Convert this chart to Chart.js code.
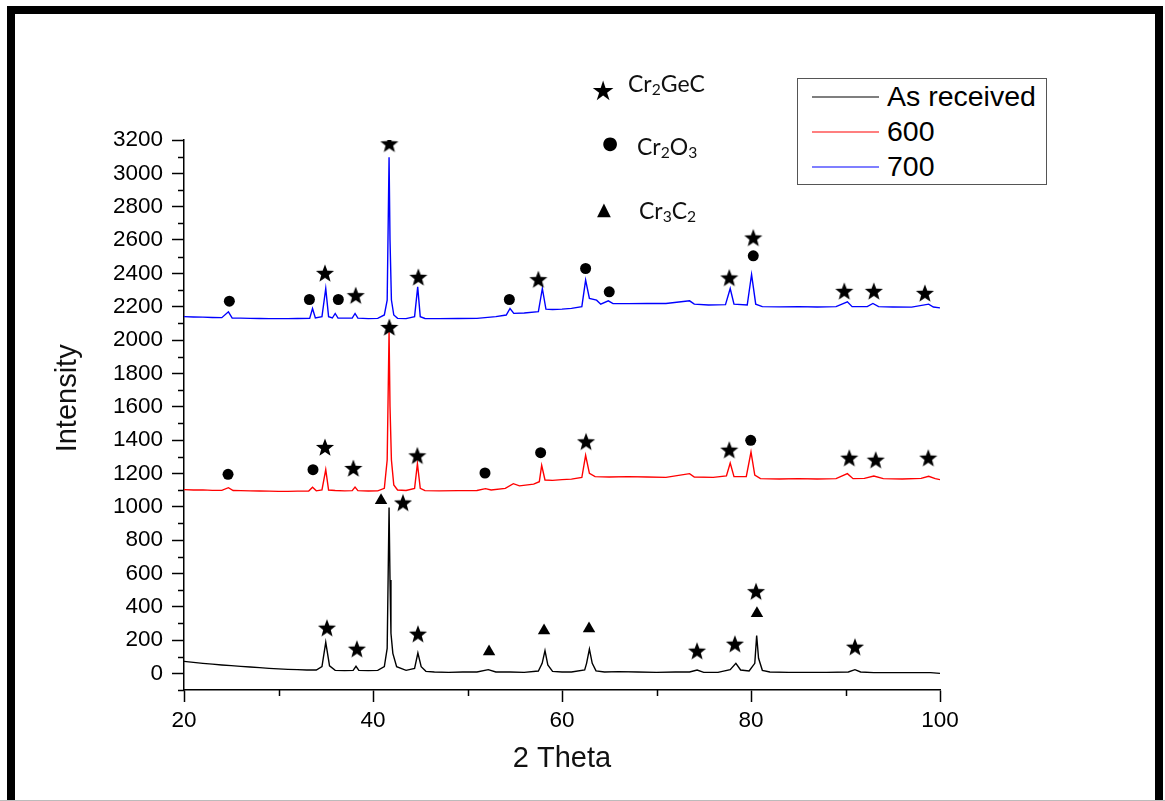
<!DOCTYPE html>
<html>
<head>
<meta charset="utf-8">
<title>XRD patterns</title>
<script src="https://cdn.jsdelivr.net/npm/chart.js@4.4.1/dist/chart.umd.min.js"></script>
<style>
    body { margin: 0; background: #fff; width: 1165px; height: 801px; overflow: hidden; position: relative; font-family: "Liberation Sans", Arial, sans-serif; }
    #frame { position: absolute; left: 7px; top: 6px; width: 1156px; height: 820px; border: 8px solid #000; border-bottom: none; box-sizing: border-box; }
    #bottomLine { position: absolute; left: 0; top: 800px; width: 1165px; height: 1px; background: #bbb; }
    #xrd { position: absolute; left: 0; top: 0; }
    #legend { position: absolute; left: 797px; top: 78px; width: 250px; height: 107px; border: 1.5px solid #555; box-sizing: border-box; background: #fff; }
    #legend .row { position: relative; height: 35px; }
    #legend .swatch { position: absolute; left: 14px; top: 17px; width: 67px; height: 2px; opacity: 0.5; }
    #legend .txt { position: absolute; left: 89px; top: 0; line-height: 35px; font-size: 28.5px; color: #000; }
    .sym { position: absolute; transform: translate(-50%, -50%); color: #000; font-family: "DejaVu Sans", sans-serif; line-height: 1; }
    .phase { position: absolute; transform: translateY(-50%); font-family: Lato, "Open Sans", sans-serif; font-size: 23px; color: #111; line-height: 1; }
    .phase sub { font-size: 0.68em; vertical-align: -0.2em; }
</style>
</head>
<body>
<div id="frame"></div>
<div id="bottomLine"></div>
<canvas id="xrd" width="1165" height="801"></canvas>
<div id="legend"></div>
<div id="key"></div>

<script>
// series: as received, heat treated at 600 and 700
const seriesLabels = ['As received', '600', '700'];
const seriesColors = ['#000000', '#ff0000', '#0000ff'];

const asRecX = [20, 21, 22, 23, 24, 25, 26, 27, 28, 29, 30, 31, 32, 33, 34, 34.6, 35.0, 35.4, 36, 37, 37.9, 38.2, 38.5, 39.5, 40.5, 41.2, 41.5, 41.7, 41.8, 41.9, 42.1, 42.5, 43.5, 44.4, 44.75, 45.1, 45.6, 46.5, 48, 49.5, 51, 52.2, 53, 54.5, 56, 57.5, 57.9, 58.2, 58.5, 59, 60, 61, 62.4, 62.6, 62.9, 63.2, 63.6, 64.5, 66, 68, 70, 72, 73.5, 74.3, 75, 76.5, 77.8, 78.4, 78.9, 79.8, 80.4, 80.6, 80.8, 81.2, 82, 84, 86, 88, 90.3, 91.0, 91.6, 93, 95, 97, 99, 100];
const asRecY = [72, 66, 60, 55, 50, 46, 42, 38, 34, 30, 27, 24, 22, 20, 20, 40, 186, 45, 18, 16, 18, 42, 18, 16, 18, 40, 150, 995, 560, 240, 120, 40, 18, 30, 122, 40, 12, 8, 6, 8, 8, 22, 8, 8, 6, 14, 60, 136, 50, 12, 8, 8, 20, 60, 146, 60, 15, 8, 10, 8, 6, 8, 8, 20, 6, 6, 22, 60, 20, 14, 60, 226, 90, 18, 8, 6, 6, 6, 8, 22, 8, 4, 4, 4, 4, 0];

const h600X = [20, 21, 22, 23, 24, 24.7, 25.2, 26, 27, 28, 29, 30, 31, 32, 33.2, 33.6, 34, 34.6, 35.0, 35.3, 36, 37, 37.8, 38.1, 38.4, 39.5, 40.5, 41.2, 41.5, 41.7, 41.8, 41.95, 42.2, 42.6, 43.5, 44.4, 44.7, 45.0, 45.5, 47, 49, 51, 51.9, 52.5, 54, 54.85, 55.5, 57, 57.6, 57.85, 58.2, 59, 60, 61, 62.1, 62.5, 62.9, 63.5, 65, 67, 69, 71, 73.5, 74, 76, 77.4, 77.8, 78.2, 79.5, 80.0, 80.4, 81, 83, 85, 87, 89, 90.2, 90.8, 92, 93.0, 94, 96, 98, 98.8, 99.5, 100];
const h600Y = [1102, 1100, 1101, 1098, 1098, 1114, 1097, 1096, 1095, 1094, 1093, 1092, 1092, 1093, 1094, 1117, 1095, 1100, 1222, 1100, 1097, 1095, 1096, 1117, 1096, 1094, 1095, 1110, 1280, 2050, 1600, 1280, 1130, 1100, 1097, 1110, 1258, 1110, 1096, 1095, 1096, 1097, 1108, 1100, 1110, 1138, 1125, 1135, 1150, 1248, 1160, 1158, 1162, 1165, 1175, 1308, 1200, 1180, 1178, 1180, 1178, 1176, 1198, 1178, 1176, 1185, 1262, 1180, 1180, 1328, 1190, 1168, 1166, 1168, 1166, 1168, 1198, 1168, 1170, 1184, 1168, 1166, 1170, 1182, 1168, 1162];

const h700X = [20, 21, 22, 23, 24, 24.7, 25.1, 26, 27, 28, 29, 30, 31, 32, 33.3, 33.6, 33.9, 34.6, 35.0, 35.3, 35.7, 36.0, 36.3, 37, 37.8, 38.1, 38.4, 39.5, 40.5, 41.2, 41.5, 41.7, 41.8, 41.95, 42.2, 42.6, 43.5, 44.4, 44.73, 45.0, 45.5, 47, 49, 51, 53, 54.1, 54.5, 54.9, 56, 57.5, 57.92, 58.3, 59, 60, 61, 62.1, 62.5, 62.9, 63.66, 64.1, 64.9, 65.4, 67, 69, 71, 73.5, 74, 75.5, 77.3, 77.8, 78.2, 79.6, 80.06, 80.5, 81.2, 83, 85, 87, 89, 90.2, 90.7, 92.3, 92.9, 93.5, 95, 97, 98.8, 99.3, 100];
const h700Y = [2140, 2138, 2137, 2135, 2134, 2169, 2132, 2131, 2130, 2129, 2128, 2128, 2128, 2129, 2130, 2189, 2132, 2140, 2309, 2140, 2132, 2159, 2132, 2131, 2132, 2159, 2131, 2128, 2130, 2150, 2239, 3096, 2600, 2240, 2150, 2130, 2128, 2140, 2319, 2140, 2129, 2128, 2129, 2130, 2140, 2150, 2189, 2160, 2162, 2170, 2309, 2185, 2183, 2185, 2190, 2200, 2359, 2250, 2239, 2215, 2235, 2218, 2218, 2220, 2219, 2235, 2215, 2210, 2212, 2309, 2215, 2210, 2393, 2215, 2200, 2199, 2200, 2198, 2200, 2229, 2200, 2200, 2219, 2200, 2198, 2197, 2215, 2198, 2193];

// phase markers placed over the peaks
const starX = [35.13, 38.3, 43.17, 44.76, 74.29, 78.3, 80.53, 91.0, 34.92, 37.92, 41.73, 44.69, 62.54, 77.7, 90.4, 93.2, 98.76, 34.92, 38.17, 41.73, 44.8, 57.5, 77.7, 80.24, 89.87, 93.0, 98.4];
const starY = [274, 148, 1025, 238, 136, 178, 493, 160, 1358, 1232, 2078, 1308, 1392, 1342, 1294, 1282, 1294, 2403, 2269, 3180, 2379, 2365, 2375, 2615, 2295, 2295, 2283];
const dotX = [24.66, 33.65, 51.85, 57.74, 79.97, 24.8, 33.27, 36.33, 54.43, 62.5, 65.0, 80.24];
const dotY = [1194, 1222, 1202, 1324, 1398, 2233, 2243, 2243, 2243, 2429, 2289, 2505];
const triX = [40.85, 52.28, 58.1, 62.86, 80.63];
const triY = [1037, 130, 256, 268, 360];

const phaseNames = [['Cr', '2', 'GeC', ''], ['Cr', '2', 'O', '3'], ['Cr', '3', 'C', '2']];

const xMajor = [20, 40, 60, 80, 100];
const xMinor = [30, 50, 70, 90];
const yMinor = [-100, 100, 300, 500, 700, 900, 1100, 1300, 1500, 1700, 1900, 2100, 2300, 2500, 2700, 2900, 3100];
const yTitle = 'Intensity';
const yTitleAt = 1650;  // value the y title is centred on

function pairs(xs, ys) {
    return xs.map((x, i) => ({ x: x, y: ys[i] }));
}

// filled five point star used as point style
function makeStar(size) {
    const c = document.createElement('canvas');
    c.width = size;
    c.height = size;
    const g = c.getContext('2d');
    const R = size / 2 - 0.5;
    const r = R * 0.42;
    g.fillStyle = '#000';
    g.beginPath();
    for (let i = 0; i < 10; i++) {
        const rad = i % 2 === 0 ? R : r;
        const a = -Math.PI / 2 + i * Math.PI / 5;
        const px = size / 2 + rad * Math.cos(a);
        const py = size / 2 + 1 + rad * Math.sin(a);
        if (i === 0) g.moveTo(px, py); else g.lineTo(px, py);
    }
    g.closePath();
    g.fill();
    return c;
}
const starImg = makeStar(20);

const tickFont = { family: '"Liberation Sans", Arial, sans-serif', size: 22.5 };
const titleFont = { family: '"Liberation Sans", Arial, sans-serif', size: 29 };

const axisExtras = {
    id: 'axisExtras',
    afterDraw(chart) {
        const { ctx, scales: { x, y } } = chart;
        ctx.save();
        ctx.strokeStyle = '#000';
        ctx.lineWidth = 1.5;
        ctx.beginPath();
        xMinor.forEach(v => {
            const px = Math.round(x.getPixelForValue(v)) + 0.5;
            ctx.moveTo(px, y.bottom);
            ctx.lineTo(px, y.bottom + 6);
        });
        yMinor.forEach(v => {
            const py = Math.round(y.getPixelForValue(v)) + 0.5;
            ctx.moveTo(x.left - 6, py);
            ctx.lineTo(x.left, py);
        });
        ctx.stroke();
        // y title sits a little above the axis middle in the original
        ctx.translate(68, y.getPixelForValue(yTitleAt));
        ctx.rotate(-Math.PI / 2);
        ctx.font = `${titleFont.size}px ${titleFont.family}`;
        ctx.fillStyle = '#111';
        ctx.textAlign = 'center';
        ctx.textBaseline = 'middle';
        ctx.fillText(yTitle, 0, 0);
        ctx.restore();
    }
};

const lineSets = [[asRecX, asRecY], [h600X, h600Y], [h700X, h700Y]].map((s, i) => ({
    type: 'line',
    label: seriesLabels[i],
    data: pairs(s[0], s[1]),
    borderColor: seriesColors[i],
    borderWidth: 1.4,
    pointRadius: 0,
    tension: 0,
    order: 2
}));

const markerSets = [
    { type: 'scatter', label: 'star', data: pairs(starX, starY), pointStyle: starImg, pointRadius: 9, order: 1 },
    { type: 'scatter', label: 'dot', data: pairs(dotX, dotY), pointStyle: 'circle', pointRadius: 5.5, backgroundColor: '#000', borderWidth: 0, order: 1 },
    { type: 'scatter', label: 'tri', data: pairs(triX, triY), pointStyle: 'triangle', pointRadius: 7.2, backgroundColor: '#000', borderWidth: 0, order: 1 }
];

const chart = new Chart(document.getElementById('xrd').getContext('2d'), {
    type: 'line',
    data: { datasets: lineSets.concat(markerSets) },
    options: {
        responsive: false,
        animation: false,
        layout: { padding: { left: 52, right: 225, top: 140, bottom: 25 } },
        plugins: { legend: { display: false }, tooltip: { enabled: false } },
        scales: {
            x: {
                type: 'linear',
                min: 20,
                max: 100,
                afterBuildTicks: s => { s.ticks = xMajor.map(v => ({ value: v })); },
                ticks: { font: tickFont, color: '#000', padding: 5, maxRotation: 0, callback: v => String(v) },
                grid: { drawOnChartArea: false, tickLength: 12, color: '#000', tickWidth: 1.5 },
                border: { color: '#000', width: 1.5 },
                title: { display: true, text: '2 Theta', font: titleFont, color: '#111', padding: { top: 0, bottom: 0 } },
                afterFit: s => { s.height = 86; }
            },
            y: {
                min: -100,
                max: 3200,
                ticks: { stepSize: 200, includeBounds: false, font: tickFont, color: '#000', padding: 9, callback: v => String(v) },
                grid: { drawOnChartArea: false, tickLength: 12, color: '#000', tickWidth: 1.5 },
                border: { color: '#000', width: 1.5 },
                afterFit: s => { s.width = 132; }
            }
        }
    },
    plugins: [axisExtras]
});

// legend box
const legend = document.getElementById('legend');
seriesLabels.forEach((name, i) => {
    const row = document.createElement('div');
    row.className = 'row';
    row.innerHTML = `<div class="swatch" style="background:${seriesColors[i]}"></div><div class="txt">${name}</div>`;
    legend.appendChild(row);
});

// phase key
const key = document.getElementById('key');
const keySyms = [
    { ch: '\u2605', size: 27, cx: 603, cy: 90, tx: 628, ty: 85 },
    { ch: '\u25CF', size: 18, cx: 610, cy: 143, tx: 637, ty: 148 },
    { ch: '\u25B2', size: 18, cx: 604, cy: 209, tx: 639, ty: 212 }
];
keySyms.forEach((k, i) => {
    const p = phaseNames[i];
    key.innerHTML += `<span class="sym" style="left:${k.cx}px;top:${k.cy}px;font-size:${k.size}px">${k.ch}</span>` +
        `<span class="phase" style="left:${k.tx}px;top:${k.ty}px">${p[0]}<sub>${p[1]}</sub>${p[2]}${p[3] ? '<sub>' + p[3] + '</sub>' : ''}</span>`;
});
</script>
</body>
</html>
